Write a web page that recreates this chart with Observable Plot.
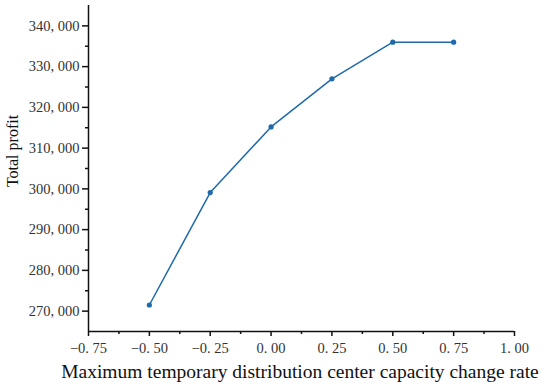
<!DOCTYPE html>
<html>
<head>
<meta charset="utf-8">
<script src="https://cdn.jsdelivr.net/npm/d3@7"></script>
<script src="https://cdn.jsdelivr.net/npm/@observablehq/plot@0.6"></script>
<style>
  html, body { margin: 0; padding: 0; background: #fff; }
  #chart svg { display: block; }
  #chart svg text { font-family: "Liberation Serif", "DejaVu Serif", serif !important; }
</style>
</head>
<body>
<div id="chart"></div>
<script>
const rates = [-0.5, -0.25, 0.0, 0.25, 0.5, 0.75];
const profits = [271500, 299100, 315200, 327000, 336000, 336000];
const xTicks = [-0.75, -0.5, -0.25, 0.0, 0.25, 0.5, 0.75, 1.0];
const xMinorTicks = [-0.625, -0.375, -0.125, 0.125, 0.375, 0.625, 0.875];
const yTicks = [270000, 280000, 290000, 300000, 310000, 320000, 330000, 340000];
const yMinorTicks = [275000, 285000, 295000, 305000, 315000, 325000, 335000];
const xLabel = "Maximum temporary distribution center capacity change rate";
const yLabel = "Total profit";

const data = rates.map((r, i) => ({rate: r, profit: profits[i]}));
const xDomain = [-0.75, 1.0];
const yDomain = [265000, 345000];

const serif = "'Liberation Serif', 'DejaVu Serif', serif";
const fmtX = d => d.toFixed(2).replace(".", ". ").replace("-", "\u2212");
const fmtY = d => d3.format(",")(d).replace(",", ", ");
const color = "#1f6aab";

const chart = Plot.plot({
  width: 550,
  height: 388,
  marginLeft: 88,
  marginRight: 36,
  marginTop: 5,
  marginBottom: 57,
  style: {fontFamily: serif, fontSize: "14px", color: "#333", background: "#fff"},
  x: {domain: xDomain},
  y: {domain: yDomain},
  marks: [
    Plot.axisX(xTicks, {tickSize: 5, tickFormat: fmtX, tickPadding: 6, stroke: "#111", strokeWidth: 1.5, fill: "#333", fontSize: 14.5, fontFamily: serif, label: null}),
    Plot.axisX(xMinorTicks, {tickSize: 3, text: null, stroke: "#111", strokeWidth: 1.5, label: null}),
    Plot.axisY(yTicks, {tickSize: 6, tickFormat: fmtY, tickPadding: 3, stroke: "#111", strokeWidth: 1.5, fill: "#333", fontSize: 14.5, fontFamily: serif, label: null}),
    Plot.axisY(yMinorTicks, {tickSize: 3, text: null, stroke: "#111", strokeWidth: 1.5, label: null}),
    Plot.ruleY([yDomain[0]], {stroke: "#111", strokeWidth: 1.5}),
    Plot.ruleX([xDomain[0]], {stroke: "#111", strokeWidth: 1.5}),
    Plot.line(data, {x: "rate", y: "profit", stroke: color, strokeWidth: 1.5}),
    Plot.dot(data, {x: "rate", y: "profit", fill: color, r: 2.6, stroke: null})
  ]
});

const svg = d3.select(chart);
svg.selectAll("text").style("font-family", serif).style("font-variant", "normal");
svg.append("text")
  .attr("x", 300).attr("y", 378)
  .attr("text-anchor", "middle")
  .style("font-family", serif)
  .attr("font-size", 19.5)
  .attr("fill", "#111")
  .text(xLabel);
svg.append("text")
  .attr("transform", "translate(18,151) rotate(-90)")
  .attr("text-anchor", "middle")
  .style("font-family", serif)
  .attr("font-size", 16)
  .attr("fill", "#111")
  .text(yLabel);

document.getElementById("chart").appendChild(chart);
</script>
</body>
</html>
